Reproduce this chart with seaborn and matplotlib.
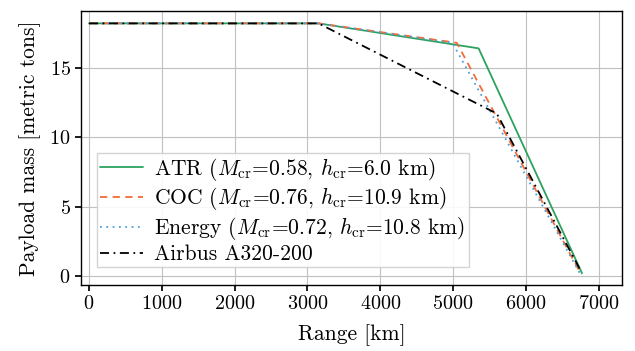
import matplotlib
matplotlib.use("Agg")
import matplotlib.pyplot as plt
import seaborn as sns
import pandas as pd

# Payload-range diagrams (range in km, payload in metric tons)
atr_range = [0, 3150, 5350, 6770]
atr_payload = [18.2, 18.2, 16.4, 0.2]

coc_range = [0, 3150, 5050, 6760]
coc_payload = [18.2, 18.2, 16.8, 0.1]

energy_range = [0, 3150, 4990, 6740]
energy_payload = [18.2, 18.2, 16.8, 0.2]

a320_range = [0, 3150, 5600, 6760]
a320_payload = [18.2, 18.2, 11.7, 0.3]

labels = [
    r"ATR ($M_{\mathrm{cr}}$=0.58, $h_{\mathrm{cr}}$=6.0 km)",
    r"COC ($M_{\mathrm{cr}}$=0.76, $h_{\mathrm{cr}}$=10.9 km)",
    r"Energy ($M_{\mathrm{cr}}$=0.72, $h_{\mathrm{cr}}$=10.8 km)",
    "Airbus A320-200",
]

sns.set_theme(style="whitegrid")
plt.rcParams.update({
    "font.family": ["cmr10", "DejaVu Serif"],
    "mathtext.fontset": "cm",
    "axes.unicode_minus": False,
    "axes.formatter.use_mathtext": True,
    "font.size": 14.5,
    "axes.labelsize": 15.5,
    "xtick.labelsize": 14.5,
    "ytick.labelsize": 14.5,
    "legend.fontsize": 15.5,
    "text.color": "black",
    "axes.labelcolor": "black",
    "axes.edgecolor": "black",
    "axes.linewidth": 1.0,
    "grid.color": "#c0c0c0",
    "grid.linewidth": 0.8,
    "xtick.bottom": True,
    "ytick.left": True,
    "xtick.major.size": 4,
    "ytick.major.size": 4,
    "xtick.color": "black",
    "ytick.color": "black",
})

frames = []
for lab, xs, ys in zip(labels,
                       [atr_range, coc_range, energy_range, a320_range],
                       [atr_payload, coc_payload, energy_payload, a320_payload]):
    frames.append(pd.DataFrame({"Range": xs, "Payload": ys, "Design": lab}))
df = pd.concat(frames, ignore_index=True)

palette = {labels[0]: "#2ca25f", labels[1]: "#f26b38",
           labels[2]: "#4a9fdc", labels[3]: "black"}
dashes = {labels[0]: "", labels[1]: (4, 3), labels[2]: (1, 2.5),
          labels[3]: (5, 2.5, 1, 2.5)}

fig = plt.figure(figsize=(6.35, 3.51), dpi=100)
ax = fig.add_axes([0.1276, 0.188, 0.852, 0.781])

for lab in labels:
    sub = df[df["Design"] == lab]
    sns.lineplot(data=sub, x="Range", y="Payload", sort=False, estimator=None,
                 color=palette[lab], linewidth=1.3, ax=ax, label=lab)
for line, lab in zip(ax.get_lines(), labels):
    if dashes[lab]:
        line.set_dashes(dashes[lab])

ax.set_xlim(-110, 7320)
ax.set_ylim(-0.65, 19.1)
ax.set_xticks(range(0, 7001, 1000))
ax.set_yticks([0, 5, 10, 15])
ax.set_xlabel("Range [km]", labelpad=8)
ax.set_ylabel("Payload mass [metric tons]", labelpad=6)
for s in ax.spines.values():
    s.set_visible(True)
    s.set_color("black")

leg = ax.legend(loc="lower left", bbox_to_anchor=(0.01, 0.025), frameon=True,
                fancybox=False, edgecolor="#d0d0d0", framealpha=0.9,
                handlelength=2.0, borderpad=0.15, labelspacing=0.12,
                handletextpad=0.5)
for h, lab in zip(leg.get_lines(), labels):
    if dashes[lab]:
        h.set_dashes(dashes[lab])

fig.savefig("out.png", dpi=100)
